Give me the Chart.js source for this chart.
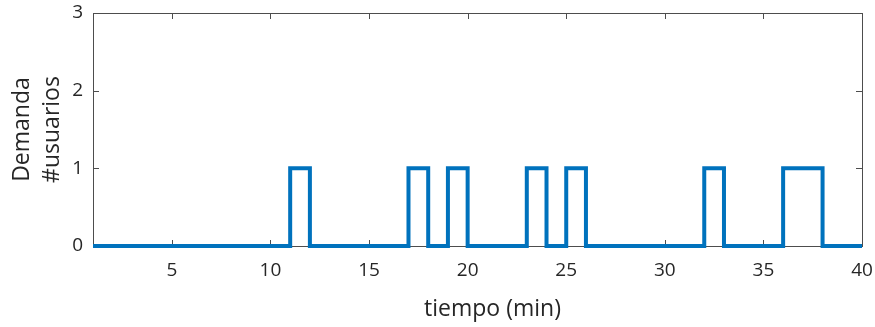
<!DOCTYPE html>
<html>
<head>
<meta charset="utf-8">
<script src="https://cdn.jsdelivr.net/npm/chart.js@4/dist/chart.umd.min.js"></script>
<style>
  html, body { margin: 0; padding: 0; background: #fff; }
  #wrap { width: 875px; height: 327px; }
</style>
</head>
<body>
<div id="wrap"><canvas id="chart" width="875" height="327"></canvas></div>
<script>
// minutes 1..40, demand held until the next minute (stairs)
const minutes = [1,2,3,4,5,6,7,8,9,10,11,12,13,14,15,16,17,18,19,20,21,22,23,24,25,26,27,28,29,30,31,32,33,34,35,36,37,38,39,40];
const demand  = [0,0,0,0,0,0,0,0,0,0,1,0,0,0,0,0,1,0,1,0,0,0,1,0,1,0,0,0,0,0,0,1,0,0,0,1,1,0,0,0];
const xTicks = [5,10,15,20,25,30,35,40];
const yTicks = [0,1,2,3];
const xLabel = 'tiempo (min)';

const axisColor = '#262626';
const fontFamily = "'Open Sans', 'Noto Sans', sans-serif";

// box around the plot with MATLAB-like inward ticks
const boxPlugin = {
  id: 'box',
  beforeDatasetsDraw(chart) {
    const { ctx, chartArea: a, scales } = chart;
    ctx.save();
    ctx.strokeStyle = '#4d4d4d';
    ctx.lineWidth = 1;
    ctx.strokeRect(a.left + 0.5, a.top + 0.5, a.right - a.left, a.bottom - a.top);
    const len = 6;
    ctx.beginPath();
    xTicks.forEach(v => {
      const px = Math.round(scales.x.getPixelForValue(v)) + 0.5;
      ctx.moveTo(px, a.bottom); ctx.lineTo(px, a.bottom - len);
      ctx.moveTo(px, a.top); ctx.lineTo(px, a.top + len);
    });
    yTicks.forEach(v => {
      const py = Math.round(scales.y.getPixelForValue(v)) + 0.5;
      ctx.moveTo(a.left, py); ctx.lineTo(a.left + len, py);
      ctx.moveTo(a.right, py); ctx.lineTo(a.right - len, py);
    });
    ctx.stroke();
    ctx.restore();
  },
  // x label sits a bit right of centre in the original
  afterDraw(chart) {
    const { ctx, chartArea: a } = chart;
    ctx.save();
    ctx.fillStyle = axisColor;
    ctx.font = '23px ' + fontFamily;
    ctx.textAlign = 'center';
    ctx.textBaseline = 'middle';
    ctx.fillText(xLabel, (a.left + a.right) / 2 + 15, 309);
    ctx.restore();
  }
};

new Chart(document.getElementById('chart'), {
  type: 'line',
  data: {
    datasets: [{
      data: minutes.map((m, i) => ({ x: m, y: demand[i] })),
      borderColor: '#0072BD',
      borderWidth: 4,
      pointRadius: 0,
      stepped: true,
      clip: 4
    }]
  },
  options: {
    responsive: false,
    animation: false,
    layout: { padding: { top: 13, right: 13, left: 0, bottom: 0 } },
    plugins: { legend: { display: false }, tooltip: { enabled: false } },
    scales: {
      x: {
        type: 'linear',
        min: 1, max: 40,
        afterBuildTicks: s => { s.ticks = xTicks.map(v => ({ value: v })); },
        afterFit: s => { s.height = 81; s.paddingRight = 0; s.paddingLeft = 0; },
        grid: { display: false },
        border: { display: false },
        ticks: { color: axisColor, font: { family: fontFamily, size: 19 }, padding: 5, maxRotation: 0 }
      },
      y: {
        min: 0, max: 3,
        afterBuildTicks: s => { s.ticks = yTicks.map(v => ({ value: v })); },
        afterFit: s => { s.width = 93; s.paddingTop = 0; s.paddingBottom = 0; },
        grid: { display: false },
        border: { display: false },
        ticks: { color: axisColor, font: { family: fontFamily, size: 19 }, padding: 2 },
        title: { display: true, text: ['Demanda', '#usuarios'], color: axisColor, font: { family: fontFamily, size: 23, lineHeight: 1.3 }, padding: { top: 8, bottom: 0 } }
      }
    }
  },
  plugins: [boxPlugin]
});
</script>
</body>
</html>
